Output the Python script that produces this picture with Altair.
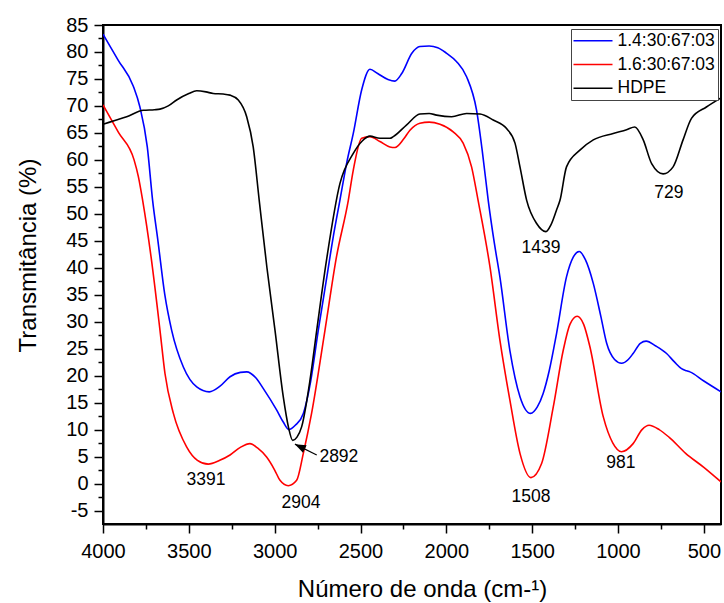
import altair as alt
import pandas as pd

# ---------------- data ----------------
series_names = ["1.4:30:67:03", "1.6:30:67:03", "HDPE"]
series_colors = ["#0000ff", "#ff0000", "#000000"]

wn_blue = [4000, 3912, 3824, 3785, 3742, 3711, 3680, 3640, 3600, 3532, 3454, 3381, 3320, 3260, 3200, 3163,
           3110, 3066, 2988, 2950, 2917, 2880, 2833, 2790, 2746, 2700, 2660, 2620, 2580, 2542, 2493,
           2445, 2400, 2340, 2300, 2260, 2200, 2154, 2100, 2050, 2000, 1940, 1882, 1824, 1790, 1756,
           1720, 1688, 1630, 1571, 1509, 1470, 1436, 1400, 1358, 1300, 1260, 1226, 1190, 1144, 1100,
           1066, 1020, 979, 940, 912, 870, 836, 780, 717, 670, 630, 600, 581, 500, 400]
t_blue = [83.3, 78.5, 73.7, 69.8, 62.4, 52.5, 45.0, 35.0, 28.4, 21.6, 17.9, 17.0, 18.0, 19.8, 20.6, 20.7,
          19.6, 17.6, 13.6, 11.4, 10.0, 10.8, 13.0, 19.0, 28.4, 37.5, 45.5, 52.5, 59.5, 64.9, 73.0,
          76.8, 76.0, 74.9, 74.6, 76.0, 79.8, 81.0, 81.1, 80.8, 79.8, 78.2, 75.4, 69.2, 61.5, 52.5,
          44.5, 38.3, 24.7, 16.1, 13.0, 14.2, 16.7, 21.0, 27.8, 38.3, 42.0, 43.0, 41.5, 37.1, 31.0,
          26.0, 23.0, 22.3, 23.0, 24.1, 26.0, 26.4, 25.5, 24.1, 22.5, 21.3, 20.9, 20.7, 19.0, 17.0]

wn_red = [4000, 3910, 3819, 3794, 3769, 3720, 3668, 3639, 3590, 3513, 3450, 3387, 3320, 3260, 3200, 3144,
          3100, 3047, 3000, 2969, 2921, 2872, 2833, 2785, 2707, 2640, 2571, 2542, 2493, 2445, 2387,
          2329, 2299, 2250, 2212, 2154, 2100, 2037, 1960, 1902, 1853, 1815, 1746, 1688, 1630, 1571,
          1507, 1445, 1377, 1319, 1280, 1238, 1200, 1164, 1086, 1030, 979, 912, 860, 819, 760,
          703, 606, 500, 400]
t_red = [70.2, 65.1, 60.0, 56.9, 52.5, 42.0, 28.4, 20.4, 13.0, 6.8, 4.3, 3.6, 4.3, 5.3, 6.7, 7.4,
         6.6, 4.9, 2.5, 0.6, -0.4, 0.6, 5.6, 13.0, 28.4, 42.0, 52.5, 58.1, 64.0, 64.3, 63.4,
         62.4, 62.3, 63.8, 65.5, 66.8, 67.0, 66.6, 65.2, 63.1, 58.7, 52.5, 40.2, 26.6, 15.5, 5.6,
         1.1, 3.7, 14.2, 24.7, 29.5, 31.0, 29.5, 25.4, 12.4, 7.5, 5.9, 7.4, 10.0, 10.8, 10.0,
         8.6, 5.6, 3.0, 0.3]

wn_black = [4000, 3931, 3862, 3765, 3700, 3668, 3620, 3571, 3500, 3454, 3400, 3358, 3300, 3260, 3212, 3163,
            3125, 3090, 3045, 2998, 2950, 2920, 2895, 2870, 2843, 2794, 2755, 2700, 2620, 2542, 2490,
            2445, 2387, 2329, 2309, 2231, 2154, 2100, 2057, 1969, 1882, 1804, 1727, 1649, 1600, 1571,
            1532, 1474, 1420, 1390, 1358, 1338, 1300, 1222, 1144, 1028, 950, 902, 853, 804, 737,
            679, 621, 572, 485, 400]
t_black = [66.6, 67.3, 68.0, 69.2, 69.3, 69.4, 70.0, 71.1, 72.3, 72.8, 72.6, 72.3, 72.2, 72.0, 71.1, 68.0,
           62.4, 52.5, 40.0, 28.4, 16.1, 10.5, 8.0, 8.6, 10.5, 19.2, 28.4, 41.0, 55.6, 61.2, 63.5,
           64.4, 64.0, 64.0, 64.3, 66.5, 68.5, 68.6, 68.3, 68.0, 68.6, 68.5, 67.4, 65.8, 63.1, 58.7,
           52.5, 48.2, 46.7, 48.0, 50.7, 52.5, 58.7, 61.8, 63.7, 64.9, 65.6, 66.1, 63.7, 59.3, 57.4,
           58.7, 63.7, 67.7, 69.8, 71.5]

ann_labels = ["3391", "2904", "2892", "1508", "981", "1439", "729"]
ann_x = [3400, 2847, 2626, 1507, 983, 1449, 704]
ann_y = [0.7, -3.6, 4.9, -2.5, 3.8, 43.7, 53.9]

arrow_x = [2755]
arrow_y = [5.3]
arrow_x2 = [2882]
arrow_y2 = [7.3]

major_x = [4000, 3500, 3000, 2500, 2000, 1500, 1000, 500]
minor_x = [3750, 3250, 2750, 2250, 1750, 1250, 750]
major_y = [-5, 0, 5, 10, 15, 20, 25, 30, 35, 40, 45, 50, 55, 60, 65, 70, 75, 80, 85]
minor_y = [-2.5, 2.5, 7.5, 12.5, 17.5, 22.5, 27.5, 32.5, 37.5, 42.5, 47.5, 52.5, 57.5,
           62.5, 67.5, 72.5, 77.5, 82.5]

# ---------------- tables ----------------
frames = []
for name, wn, t in zip(series_names, [wn_blue, wn_red, wn_black], [t_blue, t_red, t_black]):
    frames.append(pd.DataFrame({"wn": wn, "T": t, "serie": name}))
df = pd.concat(frames, ignore_index=True)
df_ann = pd.DataFrame({"wn": ann_x, "T": ann_y, "lab": ann_labels})
df_arrow = pd.DataFrame({"wn": arrow_x, "T": arrow_y, "wn2": arrow_x2, "T2": arrow_y2})

FONT = "Liberation Sans"

x_scale = alt.Scale(domain=[400, 4000], reverse=True, nice=False, zero=False)
y_scale = alt.Scale(domain=[-7.5, 85], nice=False, zero=False)

x_major_axis = alt.Axis(
    values=major_x, orient="bottom", title="Número de onda (cm-¹)",
    tickSize=9, tickWidth=1.5, tickColor="black", domainColor="black", domainWidth=2,
    labelFontSize=20, labelPadding=8, labelFlush=False, labelOverlap=False,
    labelColor="black", labelExpr="'' + datum.value", grid=False,
    titleFontSize=24, titleFontWeight="normal", titleColor="black",
    titleX=319, titleY=72, titleBaseline="alphabetic", titleAlign="center",
)
y_major_axis = alt.Axis(
    values=major_y, orient="left", title="Transmitância (%)",
    tickSize=9, tickWidth=1.5, tickColor="black", domainColor="black", domainWidth=2,
    labelFontSize=20, labelPadding=6, labelFlush=False, labelOverlap=False,
    labelColor="black", labelExpr="'' + datum.value", grid=False,
    titleFontSize=24, titleFontWeight="normal", titleColor="black",
    titleX=-75, titleY=230, titleAngle=-90, titleBaseline="middle", titleAlign="center",
)
x_minor_axis = alt.Axis(values=minor_x, orient="bottom", labels=False, domain=False,
                        tickSize=5, tickWidth=1.5, tickColor="black", grid=False, title=None)
y_minor_axis = alt.Axis(values=minor_y, orient="left", labels=False, domain=False,
                        tickSize=5, tickWidth=1.5, tickColor="black", grid=False, title=None)

lines = alt.Chart(df).mark_line(strokeWidth=1.6, interpolate="monotone", clip=True).encode(
    x=alt.X("wn:Q", scale=x_scale, axis=x_major_axis),
    y=alt.Y("T:Q", scale=y_scale, axis=y_major_axis),
    color=alt.Color("serie:N", scale=alt.Scale(domain=series_names, range=series_colors),
                    legend=alt.Legend(title=None, orient="none", legendX=468, legendY=4,
                                      direction="vertical", symbolType="M-1.233,0H3.967",
                                      symbolSize=225, symbolStrokeWidth=1.5,
                                      labelFontSize=17.5, labelFont=FONT, labelColor="black",
                                      labelOffset=26, padding=3, rowPadding=4.8,
                                      strokeColor="#444444", fillColor="white",
                                      cornerRadius=0)),
    order=alt.Order("wn:Q", sort="descending"),
)

texts = alt.Chart(df_ann).mark_text(fontSize=17.5, font=FONT, color="black",
                                    baseline="middle", align="center").encode(
    x=alt.X("wn:Q", scale=x_scale, axis=x_minor_axis),
    y=alt.Y("T:Q", scale=y_scale, axis=y_minor_axis),
    text="lab:N",
)

arrow_line = alt.Chart(df_arrow).mark_rule(color="black", strokeWidth=1.2).encode(
    x=alt.X("wn:Q", scale=x_scale, axis=None),
    y=alt.Y("T:Q", scale=y_scale, axis=None),
    x2="wn2:Q", y2="T2:Q",
)

arrow_head = alt.Chart(df_arrow).mark_point(
    shape="M0,0L0.38,1L-0.38,1Z", filled=True, color="black", size=484, angle=296, opacity=1
).encode(
    x=alt.X("wn2:Q", scale=x_scale, axis=None),
    y=alt.Y("T2:Q", scale=y_scale, axis=None),
)

chart = alt.layer(lines, texts, arrow_line, arrow_head).resolve_axis(
    x="independent", y="independent"
).properties(
    width=618, height=499,
    autosize=alt.AutoSizeParams(type="none"),
    padding={"left": 103, "top": 25, "right": 3, "bottom": 79},
).configure_view(
    stroke="black", strokeWidth=2
).configure_axis(
    labelFont=FONT, titleFont=FONT
).configure_text(font=FONT)

chart.save("out.html", embed_options={"renderer": "svg", "actions": False})
